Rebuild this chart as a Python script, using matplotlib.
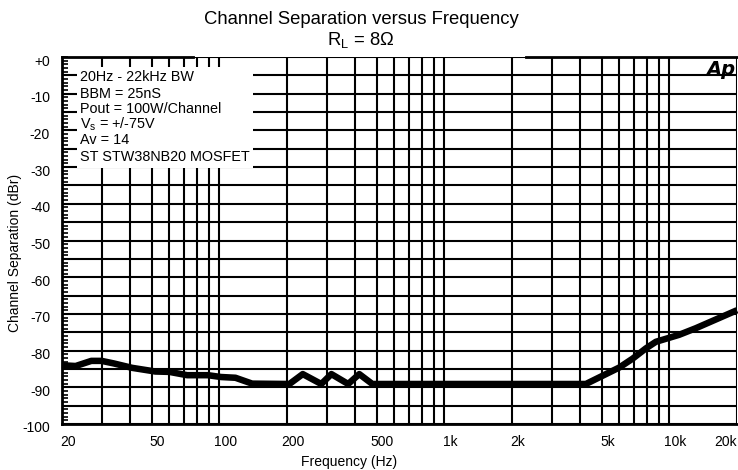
import matplotlib
matplotlib.use('Agg')
import matplotlib.pyplot as plt
import matplotlib.transforms as mtransforms
from matplotlib.patches import Rectangle

# ======= Data =======
freq_hz = [20, 23, 27, 30, 34, 41, 52, 60, 72, 89, 102, 118, 140, 205,
           235, 284, 315, 374, 419, 479, 4260, 6000, 6870, 7870, 8720,
           11060, 13120, 20000]
separation_dbr = [-84.0, -84.2, -82.8, -82.8, -83.5, -84.7, -85.7, -85.8,
                  -86.7, -86.7, -87.2, -87.4, -89.0, -89.1, -86.4, -89.1,
                  -86.4, -89.1, -86.4, -89.1, -89.1, -84.6, -82.2, -79.4,
                  -77.6, -75.7, -73.9, -69.0]

grid_freqs = ([20, 30, 40, 50, 60, 70, 80, 90]
              + [100, 200, 300, 400, 500, 600, 700, 800, 900]
              + [1000, 2000, 3000, 4000, 5000, 6000, 7000, 8000, 9000]
              + [10000, 20000])
labelled_freqs = {20: '20', 50: '50', 100: '100', 200: '200', 500: '500',
                  1000: '1k', 2000: '2k', 5000: '5k', 10000: '10k', 20000: '20k'}
y_ticks = list(range(-100, 1, 5))
info_lines = ['20Hz - 22kHz BW', 'BBM = 25nS', 'Pout = 100W/Channel',
              r'V$_{\rm s}$ = +/-75V', 'Av = 14', 'ST STW38NB20 MOSFET']

plt.rcParams['font.family'] = ['Liberation Sans', 'DejaVu Sans']
plt.rcParams['mathtext.fontset'] = 'custom'
plt.rcParams['mathtext.rm'] = 'Liberation Sans'

# ======= Figure =======
W, H = 738, 470
fig = plt.figure(figsize=(W / 100, H / 100), dpi=100, facecolor='white')
ax = fig.add_axes([62 / W, 1 - 424 / H, 675 / W, 367 / H])

ax.set_xscale('log')
ax.set_xlim(20, 20000)
ax.set_ylim(-100, 0)

# grid
ax.set_xticks(grid_freqs)
ax.set_xticklabels([labelled_freqs.get(f, '') for f in grid_freqs])
ax.xaxis.set_minor_locator(matplotlib.ticker.NullLocator())
ax.set_yticks(y_ticks)
ax.set_yticklabels(['+0' if v == 0 else (str(v) if v % 10 == 0 else '') for v in y_ticks])
ax.set_yticks(range(-100, 1, 1), minor=True)
ax.grid(True, which='major', color='black', linewidth=1.5)
ax.set_axisbelow(True)

ax.tick_params(axis='x', which='both', length=0, pad=8, labelsize=10)
ax.tick_params(axis='y', which='major', direction='in', length=4, width=1.2,
               pad=8.6, labelsize=10)
ax.tick_params(axis='y', which='minor', direction='in', length=4, width=1.2)

for side in ['left', 'bottom']:
    ax.spines[side].set_linewidth(2)
ax.spines['right'].set_visible(False)
ax.spines['top'].set_visible(False)
ax.plot([0, 0.194], [1, 1], color='black', lw=2, transform=ax.transAxes, clip_on=False)
ax.plot([0.688, 1], [1, 1], color='black', lw=2, transform=ax.transAxes, clip_on=False)

# nudge tick labels like the original
dx = mtransforms.ScaledTranslation(6 / 100, 0, fig.dpi_scale_trans)
for lab in ax.get_xticklabels():
    if lab.get_text() == '20k':
        lab.set_horizontalalignment('right')
    else:
        lab.set_transform(lab.get_transform() + dx)
dy = mtransforms.ScaledTranslation(0, -3 / 100, fig.dpi_scale_trans)
for lab in ax.get_yticklabels():
    lab.set_transform(lab.get_transform() + dy)

# ======= Curve =======
ax.plot(freq_hz, separation_dbr, color='black', linewidth=4.7,
        solid_joinstyle='round', solid_capstyle='butt', zorder=4, clip_on=False)

# ======= Info box =======
ax.add_patch(Rectangle((0.022, 0.698), 0.261, 0.275, transform=ax.transAxes,
                       facecolor='white', edgecolor='none', zorder=2))
line_y = [77, 94, 109, 124, 140, 157]
for txt, yp in zip(info_lines, line_y):
    fig.text(80 / W, 1 - yp / H, txt, fontsize=10.4, va='center', ha='left', zorder=3)

# logo
ax.text(0.998, 0.993, 'Ap', transform=ax.transAxes, ha='right', va='top',
        fontsize=14, fontweight='heavy', style='italic', zorder=5,
        family=['DejaVu Sans'])

# ======= Titles =======
fig.text(361 / W, 1 - 19 / H, 'Channel Separation versus Frequency',
         ha='center', va='center', fontsize=13.3)
fig.text(361 / W, 1 - 40 / H, r'R$_{\rm L}$ = 8$\Omega$',
         ha='center', va='center', fontsize=13.3)
fig.text(349 / W, 1 - 462 / H, 'Frequency (Hz)', ha='center', va='center',
         fontsize=10, family=['Liberation Sans Narrow', 'Liberation Sans'])
fig.text(15 / W, 1 - 253 / H, 'Channel Separation (dBr)', ha='center',
         va='center', rotation=90, fontsize=10)

fig.savefig('out.png', dpi=100, facecolor='white')
